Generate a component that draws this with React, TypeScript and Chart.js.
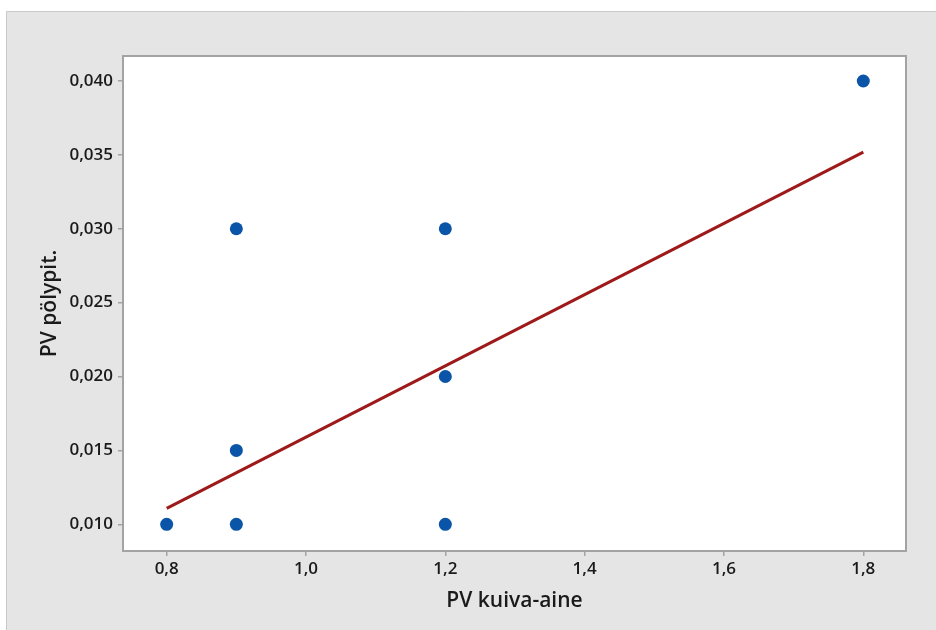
import React, { useEffect, useRef } from "react";
import { Chart, registerables } from "chart.js";

Chart.register(...registerables);

const pointsX = [0.8, 0.9, 0.9, 0.9, 1.2, 1.2, 1.2, 1.8];
const pointsY = [0.010, 0.010, 0.015, 0.030, 0.010, 0.020, 0.030, 0.040];
const fitX = [0.8, 1.8];
const fitY = [0.01108, 0.03519];
const xTicks = [0.8, 1.0, 1.2, 1.4, 1.6, 1.8];
const yTicks = [0.010, 0.015, 0.020, 0.025, 0.030, 0.035, 0.040];
const xTitle = "PV kuiva-aine";
const yTitle = "PV pölypit.";

const FONT = "'Open Sans', 'Noto Sans', sans-serif";

const bgPlugin = {
  id: "bgPlugin",
  beforeDraw(chart: any) {
    const { ctx, width, height, chartArea } = chart;
    ctx.save();
    ctx.fillStyle = "#ffffff";
    ctx.fillRect(0, 0, width, height);
    ctx.fillStyle = "#e5e5e5";
    ctx.fillRect(6, 11, width - 6, height - 11);
    ctx.strokeStyle = "#c9c9c9";
    ctx.lineWidth = 1;
    ctx.beginPath();
    ctx.moveTo(6.5, height);
    ctx.lineTo(6.5, 11.5);
    ctx.lineTo(width, 11.5);
    ctx.stroke();
    ctx.fillStyle = "#ffffff";
    ctx.fillRect(chartArea.left, chartArea.top, chartArea.right - chartArea.left, chartArea.bottom - chartArea.top);
    ctx.restore();
  },
  afterDatasetsDraw(chart: any) {
    const { ctx, chartArea } = chart;
    ctx.save();
    ctx.strokeStyle = "#a3a3a3";
    ctx.lineWidth = 2;
    ctx.strokeRect(chartArea.left, chartArea.top, chartArea.right - chartArea.left, chartArea.bottom - chartArea.top);
    ctx.restore();
  },
};

export default function App() {
  const ref = useRef<HTMLCanvasElement | null>(null);
  useEffect(() => {
    document.body.style.margin = "0";
    const canvas = ref.current;
    if (!canvas) return;
    const chart = new Chart(canvas, {
      type: "scatter",
      data: {
        datasets: [
          {
            type: "line",
            label: "fit",
            data: fitX.map((x, i) => ({ x, y: fitY[i] })),
            borderColor: "#9e1a1a",
            borderWidth: 3,
            pointRadius: 0,
            fill: false,
            order: 2,
          } as any,
          {
            label: "data",
            data: pointsX.map((x, i) => ({ x, y: pointsY[i] })),
            backgroundColor: "#0a55a8",
            borderColor: "#0a55a8",
            pointRadius: 6.5,
            borderWidth: 0,
            order: 1,
          },
        ],
      },
      plugins: [bgPlugin],
      options: {
        animation: false,
        responsive: false,
        maintainAspectRatio: false,
        layout: { padding: { left: 0, top: 56, right: 30, bottom: 0 } },
        plugins: { legend: { display: false }, tooltip: { enabled: false } },
        scales: {
          x: {
            type: "linear",
            min: 0.7373,
            max: 1.8613,
            afterFit(scale: any) {
              scale.height = 79;
            },
            afterBuildTicks(scale: any) {
              scale.ticks = xTicks.map((v) => ({ value: v }));
            },
            grid: {
              display: true,
              drawOnChartArea: false,
              drawTicks: true,
              tickLength: 5,
              color: "#a3a3a3",
              lineWidth: 1.5,
            },
            border: { display: false },
            ticks: {
              color: "#1a1a1a",
              padding: 3,
              font: { family: FONT, size: 17, weight: "600" as any },
              callback: (v: any) => Number(v).toFixed(1).replace(".", ","),
              maxRotation: 0,
            },
            title: {
              display: true,
              text: xTitle,
              color: "#1a1a1a",
              font: { family: FONT, size: 21, weight: "600" as any },
              padding: { top: 0, bottom: 16 },
            },
          },
          y: {
            type: "linear",
            min: 0.008193,
            max: 0.04169,
            afterFit(scale: any) {
              scale.width = 123;
            },
            afterBuildTicks(scale: any) {
              scale.ticks = yTicks.map((v) => ({ value: v }));
            },
            grid: {
              display: true,
              drawOnChartArea: false,
              drawTicks: true,
              tickLength: 5,
              color: "#a3a3a3",
              lineWidth: 1.5,
            },
            border: { display: false },
            ticks: {
              color: "#1a1a1a",
              padding: 5,
              font: { family: FONT, size: 17, weight: "600" as any },
              callback: (v: any) => Number(v).toFixed(3).replace(".", ","),
            },
            title: {
              display: true,
              text: yTitle,
              color: "#1a1a1a",
              font: { family: FONT, size: 21, weight: "600" as any },
              padding: { top: 37, bottom: 0 },
            },
          },
        },
      },
    });
    return () => chart.destroy();
  }, []);
  return (
    <div style={{ width: 936, height: 630 }}>
      <canvas ref={ref} width={936} height={630} style={{ display: "block", width: 936, height: 630 }} />
    </div>
  );
}
